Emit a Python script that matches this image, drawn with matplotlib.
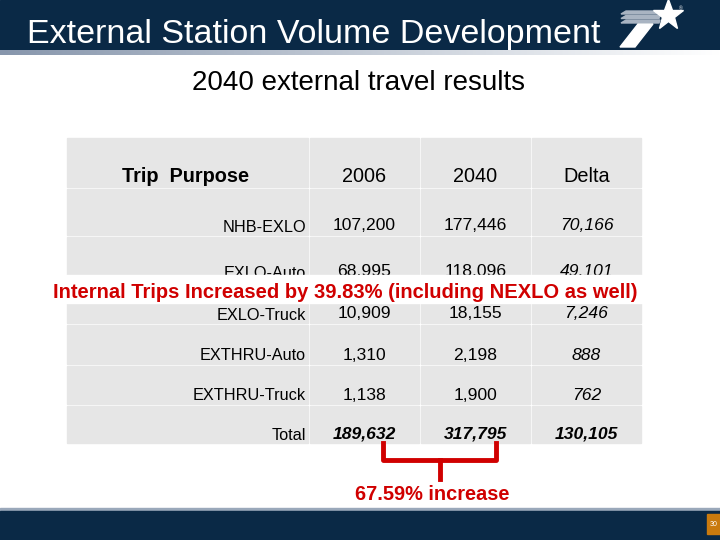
import matplotlib
matplotlib.use("Agg")
import matplotlib.pyplot as plt
import numpy as np
from matplotlib.patches import Rectangle, Polygon

plt.rcParams["font.family"] = ["Liberation Sans", "DejaVu Sans"]

TITLE = "External Station Volume Development"
SUBTITLE = "2040 external travel results"
HEADERS = ["Trip  Purpose", "2006", "2040", "Delta"]
PURPOSES = ["NHB-EXLO", "EXLO-Auto", "EXLO-Truck", "EXTHRU-Auto", "EXTHRU-Truck", "Total"]
VOL_2006 = [107200, 68995, 10909, 1310, 1138, 189632]
VOL_2040 = [177446, 118096, 18155, 2198, 1900, 317795]
DELTA = [70166, 49101, 7246, 888, 762, 130105]
NOTE_INTERNAL = "Internal Trips Increased by 39.83% (including NEXLO as well)"
NOTE_TOTAL = "67.59% increase"
PAGE = "30"

NAVY = "#0a2946"
CELL = "#e6e6e6"
RED = "#d00000"

fig = plt.figure(figsize=(7.2, 5.4), dpi=100)
ax = fig.add_axes([0, 0, 1, 1])
ax.set_xlim(0, 720)
ax.set_ylim(540, 0)
ax.axis("off")

# header and footer bands
ax.add_patch(Rectangle((0, 0), 720, 50, color=NAVY, zorder=1))
grad = np.linspace(0, 1, 256)[None, :]
ax.imshow(grad, cmap=matplotlib.colors.LinearSegmentedColormap.from_list("g", ["#8796ac", "#ffffff"]),
          extent=(0, 720, 55, 50), aspect="auto", zorder=1)
ax.add_patch(Rectangle((0, 508), 720, 3, color="#9aa8ba", zorder=1))
ax.add_patch(Rectangle((0, 511), 720, 29, color=NAVY, zorder=1))
ax.add_patch(Rectangle((707, 514), 13, 20, color="#c97a0e", zorder=2))
ax.text(713.5, 524, PAGE, color="white", fontsize=5, ha="center", va="center", zorder=3)

ax.text(27, 34, TITLE, color="white", fontsize=24.5, ha="left", va="center", zorder=3)

# logo: stripes, stem, star
for y0 in (11, 15.5, 20):
    ax.add_patch(Polygon([(626, y0), (660, y0), (659, y0 + 3), (621, y0 + 3)],
                         closed=True, color="#a9b4c2", zorder=3))
ax.add_patch(Polygon([(638, 24), (653, 24), (635, 47), (620, 47)], closed=True,
                     color="white", zorder=3))
ax.plot([668], [15], marker="*", markersize=23, color="white", zorder=3)
ax.text(681, 9, "®", color="white", fontsize=3.5, ha="center", va="center", zorder=3)

ax.text(359, 83, SUBTITLE, color="black", fontsize=20, ha="center", va="center")

# table
col_edges = [(67, 308), (310, 419), (421, 530), (532, 641)]
row_edges = [(138, 187), (189, 235), (237, 281), (283, 323), (325, 364), (366, 404), (406, 443)]
for (y0, y1) in row_edges:
    for (x0, x1) in col_edges:
        ax.add_patch(Rectangle((x0, y0), x1 - x0, y1 - y0, color=CELL, zorder=1))

hy = 176
ax.text(186, hy, HEADERS[0], fontsize=14.3, fontweight="bold", ha="center", va="center")
for (x0, x1), h in zip(col_edges[1:], HEADERS[1:]):
    ax.text((x0 + x1) / 2, hy, h, fontsize=14.3, ha="center", va="center")

for i, name in enumerate(PURPOSES):
    y0, y1 = row_edges[i + 1]
    yc = y1 - 9
    total = name == "Total"
    ax.text(306, yc + 1, name, fontsize=11.7, ha="right", va="center")
    vals = [VOL_2006[i], VOL_2040[i], DELTA[i]]
    for j, ((x0, x1), v) in enumerate(zip(col_edges[1:], vals)):
        style = "italic" if (j == 2 or total) else "normal"
        weight = "bold" if total else "normal"
        ax.text((x0 + x1) / 2, yc, f"{v:,}", fontsize=12.6, ha="center", va="center",
                style=style, fontweight=weight)

# internal trips note over the table
ax.add_patch(Rectangle((40, 275), 640, 28, color="white", zorder=4))
ax.text(345, 292, NOTE_INTERNAL, color=RED, fontsize=14.5, fontweight="bold",
        ha="center", va="center", zorder=5)

# bracket under totals
bx0, bx1, bmid = 383, 496, 440
ax.plot([bx0, bx0, bx1, bx1], [443, 460, 460, 443], color=RED, lw=3.5,
        solid_joinstyle="round", zorder=5)
ax.plot([bmid, bmid], [460, 479], color=RED, lw=3.5, zorder=5)
ax.text(432, 495, NOTE_TOTAL, color=RED, fontsize=14.4, fontweight="bold",
        ha="center", va="center", zorder=5)

fig.savefig("out.png", dpi=100)
